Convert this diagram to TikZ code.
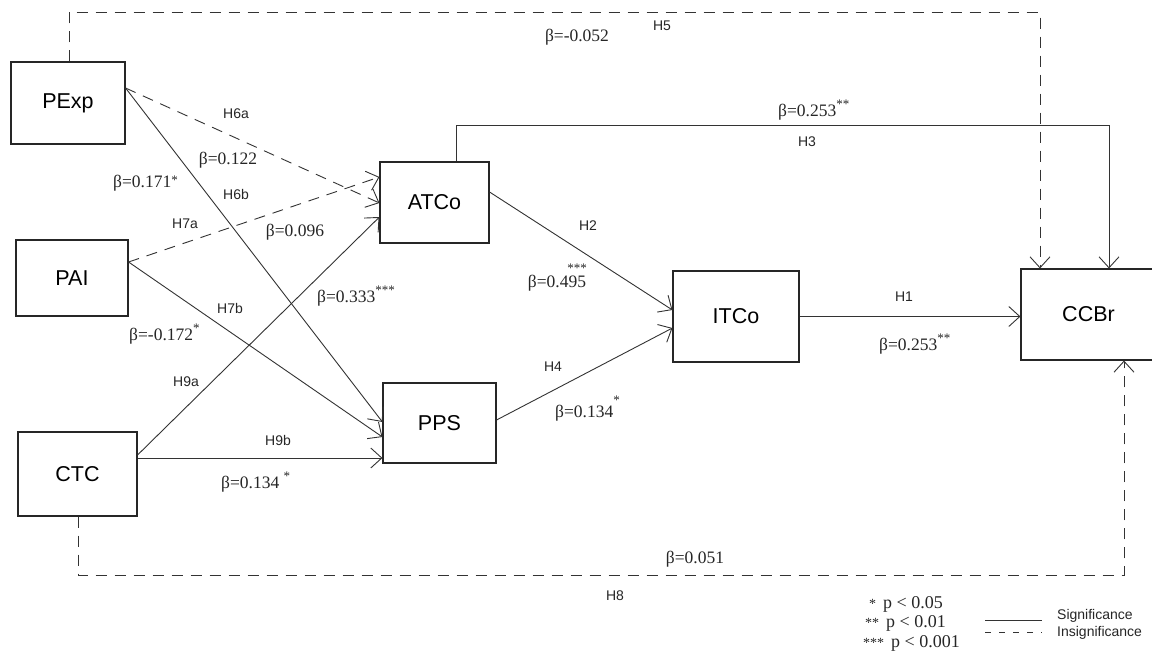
\documentclass[tikz,border=0pt]{standalone}
\usepackage{fontspec}
\setmainfont{Liberation Sans}
\newfontfamily\tnr{Liberation Serif}
\usetikzlibrary{arrows.meta,calc}
\newcommand\sigst[1]{\raisebox{0.5em}{\fontsize{13}{13}\selectfont #1}}
\begin{document}
\begin{tikzpicture}[x=1pt,y=-1pt,
  box/.style={draw=black!85,line width=1.1pt,inner sep=0pt,font=\fontsize{21.5}{24}\selectfont},
  hyp/.style={font=\fontsize{14}{16}\selectfont,inner sep=0pt,text=black!85},
  beta/.style={font=\tnr\fontsize{17.5}{20}\selectfont,inner sep=0pt,text=black!85},
  sigline/.style={draw=black!80,line width=0.9pt,-{Straight Barb[length=11pt,width=20pt]}},
  insig/.style={sigline,dash pattern=on 11pt off 8pt},
  legsolid/.style={draw=black!80,line width=0.9pt},
  legdash/.style={draw=black!80,line width=0.9pt,dash pattern=on 6pt off 8pt}]
\useasboundingbox (0,0) rectangle (1152,653);
\clip (0,0) rectangle (1152,653);
\fill[white] (0,0) rectangle (1152,653);

% boxes
\node[box,minimum width=114pt,minimum height=82pt] (PExp) at (68,103) {PExp};
\node[box,minimum width=112pt,minimum height=76pt] (PAI) at (72,278) {PAI};
\node[box,minimum width=119pt,minimum height=84pt] (CTC) at (77.5,474) {CTC};
\node[box,minimum width=109pt,minimum height=81pt] (ATCo) at (434.5,202.5) {ATCo};
\node[box,minimum width=113pt,minimum height=80pt] (PPS) at (439.5,423) {PPS};
\node[box,minimum width=126pt,minimum height=91pt] (ITCo) at (736,316.5) {ITCo};
\node[box,minimum width=135pt,minimum height=91pt] (CCBr) at (1088.5,314.5) {CCBr};

% corner coordinates
\coordinate (h5b) at (1040,12);
\coordinate (h3b) at (1109,125);
\coordinate (h8b) at (1124,575);

% insignificant paths
\draw[insig] ([xshift=1pt]PExp.north) |- (h5b) -- ([xshift=-48.5pt]CCBr.north);
\draw[insig] ([xshift=0.5pt]CTC.south) |- (h8b) -- ([xshift=35.5pt]CCBr.south);
\draw[insig] ([yshift=15pt]PExp.east) -- ([yshift=-0.5pt]ATCo.west);
\draw[insig] ([yshift=16pt]PAI.east) -- ([yshift=25.5pt]ATCo.west);

% significant paths
\draw[sigline] ([xshift=21.5pt]ATCo.north) |- (h3b) -- ([xshift=20.5pt]CCBr.north);
\draw[sigline] ([yshift=15pt]PExp.east) -- ([yshift=1pt]PPS.west);
\draw[sigline] ([yshift=16pt]PAI.east) -- ([yshift=-14pt]PPS.west);
\draw[sigline] ([yshift=19pt]CTC.east) -- ([yshift=-14.5pt]ATCo.west);
\draw[sigline] ([yshift=16pt]CTC.east) -- ([yshift=-35pt]PPS.west);
\draw[sigline] ([yshift=10.5pt]ATCo.east) -- ([yshift=6.5pt]ITCo.west);
\draw[sigline] ([yshift=3pt]PPS.east) -- ([yshift=-11.5pt]ITCo.west);
\draw[sigline] (ITCo.east) -- (ITCo.east -| CCBr.west);

% hypothesis labels
\node[hyp] (lH5) at (662,26) {H5};
\node[hyp] (lH3) at (807,142) {H3};
\node[hyp] (lH6a) at (236,114) {H6a};
\node[hyp] (lH6b) at (236,194) {H6b};
\node[hyp] (lH7a) at (185,224) {H7a};
\node[hyp] (lH7b) at (230,308) {H7b};
\node[hyp] (lH9a) at (186,382) {H9a};
\node[hyp] (lH9b) at (278,440) {H9b};
\node[hyp] (lH2) at (588,226) {H2};
\node[hyp] (lH4) at (553,367) {H4};
\node[hyp] (lH1) at (904,297) {H1};
\node[hyp] (lH8) at (615,596) {H8};

% beta labels
\node[beta] (b5) at (577,37) {β=-0.052};
\node[beta,anchor=west] (b3) at (778,110) {β=0.253\sigst{**}};
\node[beta] (b6a) at (228,160) {β=0.122};
\node[beta,anchor=west] (b6b) at (113,183) {β=0.171\raisebox{0.15em}{\fontsize{13}{13}\selectfont *}};
\node[beta] (b7a) at (295,232) {β=0.096};
\node[beta,anchor=west] (b9a) at (317,296) {β=0.333\sigst{***}};
\node[beta,anchor=west] (b7b) at (129,334) {β=-0.172\sigst{*}};
\node[beta,anchor=west] (b9b) at (221,482) {β=0.134 \sigst{*}};
\node[beta] (b2) at (557,283) {β=0.495};
\node[beta,font=\tnr\fontsize{13}{13}\selectfont] (b2s) at (577,268) {***};
\node[beta,anchor=west] (b4) at (555,409) {β=0.134\raisebox{0.75em}{\fontsize{13}{13}\selectfont *}};
\node[beta,anchor=west] (b1) at (879,344) {β=0.253\sigst{**}};
\node[beta] (b8) at (695,559) {β=0.051};

% legend
\node[beta,anchor=west] (p1) at (869,604) {\fontsize{14}{14}\selectfont *\hspace{7pt}\fontsize{18}{20}\selectfont p < 0.05};
\node[beta,anchor=west] (p2) at (865,623) {\fontsize{14}{14}\selectfont **\hspace{7pt}\fontsize{18}{20}\selectfont p < 0.01};
\node[beta,anchor=west] (p3) at (863,643) {\fontsize{14}{14}\selectfont ***\hspace{7pt}\fontsize{18}{20}\selectfont p < 0.001};
\coordinate (ls1) at (985,620);
\coordinate (ls2) at (1042,620);
\coordinate (ld1) at (985,632);
\coordinate (ld2) at (1042,632);
\draw[legsolid] (ls1) -- (ls2);
\draw[legdash] (ld1) -- (ld2);
\node[hyp,anchor=west] (lsig) at (1057,616) {Significance};
\node[hyp,anchor=west] (linsig) at (1057,633) {Insignificance};
\end{tikzpicture}
\end{document}
